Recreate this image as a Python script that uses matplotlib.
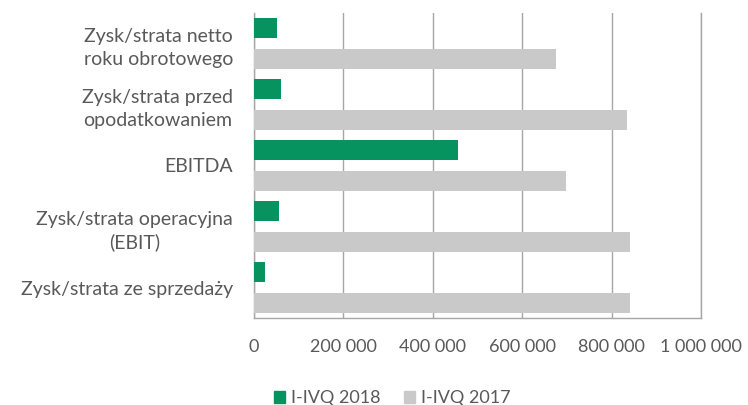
import matplotlib.pyplot as plt
from matplotlib.patches import Patch
from matplotlib.ticker import FuncFormatter

# kategorie (od góry do dołu) i wartości
kategorie = [
    "Zysk/strata netto\nroku obrotowego",
    "Zysk/strata przed\nopodatkowaniem",
    "EBITDA",
    "Zysk/strata operacyjna\n(EBIT)",
    "Zysk/strata ze sprzedaży",
]
q2018 = [51000, 61000, 456000, 57000, 25000]
q2017 = [676000, 834000, 697000, 842000, 842000]
serie = ["I-IVQ 2018", "I-IVQ 2017"]

zielony = "#07935f"
szary = "#c9c9c9"
tekst = "#595959"

plt.rcParams["font.family"] = ["Lato", "DejaVu Sans"]

fig = plt.figure(figsize=(7.48, 4.05), dpi=100)
ax = fig.add_axes([254 / 748, 1 - 318 / 405, 447 / 748, 305 / 405])

n = len(kategorie)
y = [n - 1 - i for i in range(n)]
h = 0.34
off = 0.255
ax.barh([v + off for v in y], q2018, height=h, color=zielony, zorder=3)
ax.barh([v - off for v in y], q2017, height=h, color=szary, zorder=3)

ax.set_xlim(0, 1000000)
ax.set_ylim(-0.5, n - 0.5)
ax.set_xticks(range(0, 1000001, 200000))
ax.xaxis.set_major_formatter(FuncFormatter(lambda v, p: f"{int(v):,}".replace(",", " ")))
ax.set_yticks(y)
ax.set_yticklabels(kategorie, linespacing=1.4)
ax.tick_params(axis="x", length=0, pad=15, labelsize=13, labelcolor=tekst)
ax.tick_params(axis="y", length=0, pad=15, labelsize=14, labelcolor=tekst)
for lab in ax.get_yticklabels():
    lab.set_horizontalalignment("right")
    lab.set_multialignment("center")

ax.grid(axis="x", color="#a6a6a6", linewidth=1, zorder=0)
ax.spines["top"].set_visible(False)
for s in ["left", "bottom", "right"]:
    ax.spines[s].set_color("#a6a6a6")
    ax.spines[s].set_linewidth(1)

uchwyty = [Patch(color=zielony), Patch(color=szary)]
fig.legend(uchwyty, serie, loc="center", bbox_to_anchor=(392 / 748, 1 - 398 / 405),
           ncol=2, frameon=False, fontsize=13, labelcolor=tekst,
           handlelength=0.65, handleheight=0.65, handletextpad=0.3, columnspacing=1.3)

fig.savefig("out.png", dpi=100)
